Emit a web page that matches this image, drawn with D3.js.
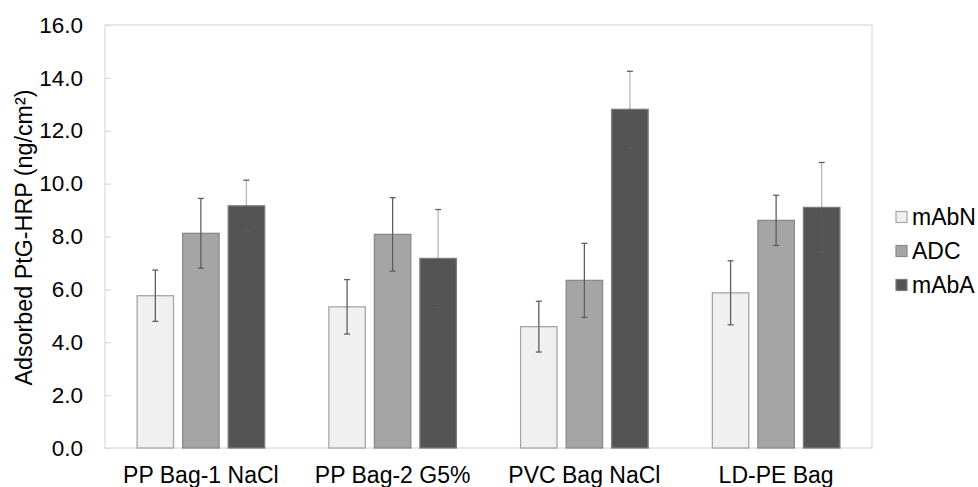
<!DOCTYPE html>
<html>
<head>
<meta charset="utf-8">
<script src="https://cdn.jsdelivr.net/npm/d3@7"></script>
<style>
    body { margin: 0; background: #fff; }
    text { font-family: "Liberation Sans", Arial, sans-serif; fill: #000; }
</style>
</head>
<body>
<svg id="chart" width="978" height="487"></svg>
<script>
// categories and series
var categories = ["PP Bag-1 NaCl", "PP Bag-2 G5%", "PVC Bag NaCl", "LD-PE Bag"];
var seriesNames = ["mAbN", "ADC", "mAbA"];
var mAbN = [5.76, 5.34, 4.59, 5.87];
var ADC = [8.12, 8.08, 6.34, 8.61];
var mAbA = [9.16, 7.17, 12.81, 9.10];
var errN = [0.97, 1.03, 0.96, 1.21];
var errADC = [1.32, 1.39, 1.40, 0.95];
var errA = [0.97, 1.85, 1.44, 1.70];
var yTicks = [0, 2, 4, 6, 8, 10, 12, 14, 16];

var fills = ["#f0f0f0", "#a5a5a5", "#545454"];
var strokes = ["#a6a6a6", "#8a8a8a", "#7a7a7a"];

var values = [mAbN, ADC, mAbA];
var errors = [errN, errADC, errA];

var svg = d3.select("#chart");
var plotL = 105, plotT = 25, plotR = 872, plotB = 448;

var x0 = d3.scaleBand().domain(categories).range([plotL, plotR]).paddingInner(0.335).paddingOuter(0.1675);
var x1 = d3.scaleBand().domain(seriesNames).range([0, x0.bandwidth()]).paddingInner(0.2);
var y = d3.scaleLinear().domain([0, 16]).range([plotB, plotT]);

// plot area frame
svg.append("rect")
        .attr("x", plotL).attr("y", plotT)
        .attr("width", plotR - plotL).attr("height", plotB - plotT)
        .attr("fill", "none").attr("stroke", "#d9d9d9").attr("stroke-width", 1.2);

// y axis, ticks drawn inward
var yAxis = svg.append("g")
        .attr("transform", "translate(" + plotL + ",0)")
        .call(d3.axisLeft(y).tickValues(yTicks).tickSize(-6).tickPadding(22).tickFormat(d3.format(".1f")));
yAxis.select(".domain").remove();
yAxis.attr("font-family", null).attr("font-size", null);
yAxis.selectAll("line").attr("stroke", "#d9d9d9").attr("stroke-width", 1.2);
yAxis.selectAll("text").style("font-size", "22.5px").attr("fill", "#000");

// x labels
var xAxis = svg.append("g")
        .attr("transform", "translate(0," + plotB + ")")
        .call(d3.axisBottom(x0).tickSize(0).tickPadding(0));
xAxis.select(".domain").remove();
xAxis.attr("font-family", null).attr("font-size", null);
xAxis.selectAll("text").style("font-size", "23px").attr("fill", "#000").attr("dy", null).attr("y", 35);

// y axis title
svg.append("text")
        .attr("transform", "translate(24," + ((plotT + plotB) / 2 + 1) + ") rotate(-90)")
        .attr("text-anchor", "middle")
        .attr("dy", "0.35em")
        .style("font-size", "23.3px")
        .text("Adsorbed PtG-HRP (ng/cm²)");

// bars
seriesNames.forEach(function (s, si) {
    var g = svg.append("g");
    g.selectAll("rect").data(categories).enter().append("rect")
            .attr("x", function (c) { return x0(c) + x1(s); })
            .attr("y", function (c, i) { return y(values[si][i]); })
            .attr("width", x1.bandwidth())
            .attr("height", function (c, i) { return plotB - y(values[si][i]); })
            .attr("fill", fills[si])
            .attr("stroke", strokes[si])
            .attr("stroke-width", 1.3);
});

// error bars
seriesNames.forEach(function (s, si) {
    var g = svg.append("g").attr("stroke", "#5e5e5e").attr("stroke-width", 1.3);
    categories.forEach(function (c, i) {
        var cx = x0(c) + x1(s) + x1.bandwidth() / 2;
        var hi = y(values[si][i] + errors[si][i]);
        var lo = y(values[si][i] - errors[si][i]);
        g.append("line").attr("x1", cx).attr("x2", cx).attr("y1", hi).attr("y2", lo)
                .attr("stroke-opacity", si === 2 ? 0.45 : 1);
        g.append("line").attr("x1", cx - 3).attr("x2", cx + 3).attr("y1", hi).attr("y2", hi);
        g.append("line").attr("x1", cx - 3).attr("x2", cx + 3).attr("y1", lo).attr("y2", lo);
    });
});

// legend
var legend = svg.append("g");
seriesNames.forEach(function (s, si) {
    var ly = 217 + si * 34;
    legend.append("rect").attr("x", 896).attr("y", ly - 5.5).attr("width", 11).attr("height", 11)
            .attr("fill", fills[si]).attr("stroke", strokes[si]).attr("stroke-width", 1.2);
    legend.append("text").attr("x", 912).attr("y", ly).attr("dy", "0.35em")
            .style("font-size", "23px").text(s);
});
</script>
</body>
</html>
